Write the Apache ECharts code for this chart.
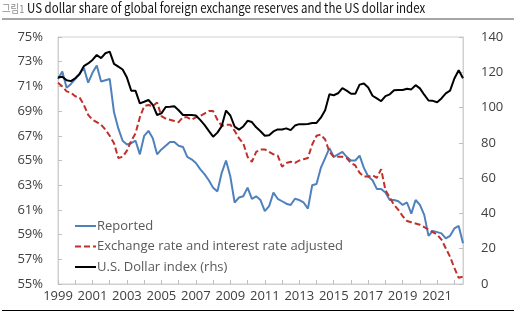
<!DOCTYPE html>
<html>
<head>
<meta charset="utf-8">
<script src="https://cdn.jsdelivr.net/npm/echarts@6/dist/echarts.min.js"></script>
<style>
  html, body { margin: 0; padding: 0; background: #fff; }
  #chart { width: 516px; height: 324px; }
</style>
</head>
<body>
<div id="chart"></div>
<script>
// years on the axis, data is quarterly from 1999Q1 to 2022Q3
const years = [1999, 2000, 2001, 2002, 2003, 2004, 2005, 2006, 2007, 2008, 2009, 2010,
  2011, 2012, 2013, 2014, 2015, 2016, 2017, 2018, 2019, 2020, 2021, 2022];
const lastQuarter = 3;

// US dollar share, reported (%)
const reported = [
  71.6, 72.2, 70.9, 71.2,
  71.6, 72.0, 72.5, 71.3,
  72.1, 72.7, 71.4, 71.5,
  71.6, 68.9, 67.6, 66.6,
  66.3, 66.4, 66.6, 65.5,
  67.0, 67.4, 66.8, 65.5,
  65.9, 66.2, 66.5, 66.5,
  66.2, 66.1, 65.3, 65.1,
  64.8, 64.3, 63.9, 63.4,
  62.8, 62.5, 64.0, 65.0,
  63.7, 61.6, 62.0, 62.1,
  62.8, 61.9, 62.1, 61.8,
  60.9, 61.3, 62.4, 61.9,
  61.7, 61.5, 61.4, 61.9,
  61.8, 61.6, 61.1, 63.0,
  63.1, 64.4, 65.2, 66.0,
  65.3, 65.5, 65.7, 65.3,
  65.0, 65.0, 65.4, 64.4,
  63.7, 63.4, 62.7, 62.7,
  62.4, 61.8, 61.8, 61.7,
  61.4, 61.6, 60.7, 61.8,
  61.4, 60.6, 58.9, 59.3,
  59.2, 59.1, 58.7, 58.9,
  59.5, 59.7, 58.3
];

// exchange rate and interest rate adjusted (%)
const adjusted = [
  71.3, 71.0, 70.6, 70.5,
  70.2, 70.1, 69.5, 68.7,
  68.3, 68.1, 67.9, 67.5,
  67.0, 66.4, 65.2, 65.3,
  65.8, 66.6, 67.2, 68.5,
  69.4, 69.5, 69.4, 69.7,
  68.6, 68.4, 68.3, 68.2,
  68.1, 68.5, 68.5, 68.3,
  68.5, 68.6, 68.8, 69.0,
  69.0, 68.3, 67.8, 67.9,
  67.9, 67.4, 66.8, 66.4,
  65.3, 64.9, 65.7, 65.9,
  65.9, 65.7, 65.5, 65.4,
  64.5, 64.8, 64.9, 64.8,
  65.0, 65.1, 65.2, 66.3,
  67.0, 67.1, 66.7, 65.7,
  65.3, 65.3, 65.3, 65.2,
  64.8, 64.6, 64.0, 63.7,
  63.7, 63.8, 63.6, 64.3,
  62.6, 62.0, 61.4, 61.0,
  60.5, 60.1, 60.0, 59.9,
  59.8, 59.6, 59.4, 59.2,
  59.0, 58.6, 57.9, 57.2,
  56.3, 55.5, 55.6
];

// U.S. dollar index (rhs)
const dollarIndex = [
  117, 117.5, 115.5, 115,
  116.6, 119, 123.5, 125,
  127, 129.8, 128, 130.8,
  131.7, 124.8, 123.2, 121.6,
  117, 109.5, 109.5, 102.4,
  103.3, 104.3, 101.5, 95.8,
  96.7, 100.3, 100.5, 100.8,
  98.5, 95.8, 95.8, 95.8,
  95.5, 93, 90.2, 86.8,
  83.5, 85.8, 89.5, 98.3,
  95.5, 89.2, 87.5, 89.3,
  92.5, 91.8, 88.8, 86.6,
  84, 84.3, 86.5, 87.6,
  87.6, 88.2, 87.2, 89.8,
  90.6, 90.5, 90.7, 91.2,
  91.3, 94.3, 98.5, 107.5,
  107, 108.1, 111, 109.6,
  107.8, 107.8, 113, 113.6,
  111.4, 106.7, 105.2, 103.6,
  106.5, 107.5, 109.8, 110,
  110, 110.7, 110.3, 112.7,
  110.9, 107.3, 104, 103.8,
  103, 105.2, 108.1, 109.6,
  116.5, 121.2, 116.6
];

const seriesNames = ["Reported", "Exchange rate and interest rate adjusted", "U.S. Dollar index (rhs)"];
const titleTag = "그림1";
const titleText = "US dollar share of global foreign exchange reserves and the US dollar index";

// build quarter categories
const quarters = [];
years.forEach((y, i) => {
  const n = i === years.length - 1 ? lastQuarter : 4;
  for (let q = 1; q <= n; q++) quarters.push(y + "Q" + q);
});

const labelFont = "'Open Sans', 'Noto Sans', sans-serif";
const frameColor = "#d0d0d0";

const chart = echarts.init(document.getElementById("chart"), null, { renderer: "canvas" });
chart.setOption({
  animation: false,
  graphic: [
    {
      type: "text",
      x: 2,
      y: 3,
      scaleX: 0.85,
      style: { text: titleTag, font: "11px 'Noto Sans CJK KR'", fill: "#8c8c8c", verticalAlign: "top" },
    },
    {
      type: "text",
      x: 27,
      y: 1,
      scaleX: 0.85,
      style: { text: titleText, font: "13.5px 'Noto Sans CJK KR'", fill: "#111", verticalAlign: "top" },
    },
    { type: "rect", left: 2, top: 18, shape: { width: 512, height: 2 }, style: { fill: "#a6a6a6" } },
    { type: "rect", left: 2, top: 310, shape: { width: 512, height: 1 }, style: { fill: "#000" } },
  ],
  grid: {
    left: 58,
    right: 53,
    top: 37,
    bottom: 40,
    show: true,
    borderColor: frameColor,
    borderWidth: 1,
  },
  legend: {
    orient: "vertical",
    left: 69,
    top: 214,
    itemWidth: 21,
    itemHeight: 10,
    itemGap: 6.5,
    data: seriesNames,
    // hide the round marker, keep only the line
    itemStyle: { opacity: 0 },
    textStyle: { fontSize: 13, color: "#595959", fontFamily: labelFont, lineHeight: 14, padding: [0, 0, 0, -4] },
  },
  xAxis: {
    type: "category",
    data: quarters,
    boundaryGap: false,
    axisLine: { lineStyle: { color: frameColor } },
    axisTick: { inside: true, interval: 3, length: 4, lineStyle: { color: "#bfbfbf" } },
    axisLabel: {
      interval: 7,
      margin: 6,
      fontSize: 13,
      color: "#404040",
      fontFamily: labelFont,
      formatter: (v) => v.slice(0, 4),
    },
    splitLine: { show: false },
  },
  yAxis: [
    {
      type: "value",
      min: 55,
      max: 75,
      interval: 2,
      axisLine: { show: true, lineStyle: { color: frameColor } },
      axisTick: { show: true, inside: true, length: 4, lineStyle: { color: "#bfbfbf" } },
      axisLabel: { margin: 15, fontSize: 13, color: "#404040", fontFamily: labelFont, formatter: "{value}%" },
      splitLine: { show: false },
    },
    {
      type: "value",
      min: 0,
      max: 140,
      interval: 20,
      axisLine: { show: true, lineStyle: { color: frameColor } },
      axisTick: { show: true, inside: true, length: 4, lineStyle: { color: "#bfbfbf" } },
      axisLabel: { margin: 18, fontSize: 13, color: "#404040", fontFamily: labelFont },
      splitLine: { show: false },
    },
  ],
  series: [
    {
      name: seriesNames[0],
      type: "line",
      data: reported,
      yAxisIndex: 0,
      symbol: "none",
      color: "#4f81bd",
      lineStyle: { width: 2, color: "#4f81bd" },
    },
    {
      name: seriesNames[1],
      type: "line",
      data: adjusted,
      yAxisIndex: 0,
      symbol: "none",
      color: "#c0312b",
      lineStyle: { width: 2, color: "#c0312b", type: [6, 3] },
    },
    {
      name: seriesNames[2],
      type: "line",
      data: dollarIndex,
      yAxisIndex: 1,
      symbol: "none",
      color: "#000",
      lineStyle: { width: 2, color: "#000" },
    },
  ],
});
</script>
</body>
</html>
